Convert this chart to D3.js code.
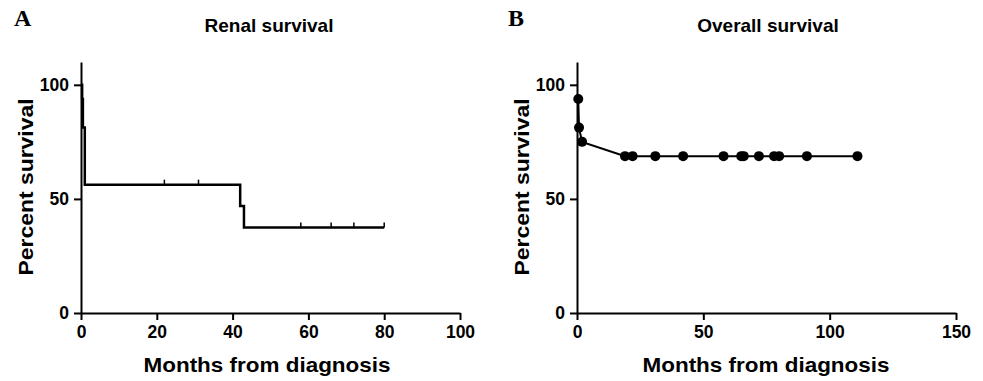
<!DOCTYPE html>
<html>
<head>
<meta charset="utf-8">
<script src="https://cdn.jsdelivr.net/npm/d3@7"></script>
<style>
  body { margin: 0; background: #fff; }
  text { font-family: "Liberation Sans", Arial, sans-serif; font-weight: bold; fill: #000; }
</style>
</head>
<body>
<script>
// Panel A - renal survival (Kaplan-Meier steps)
const renalTimes = [0, 0.3, 0.5, 1, 42, 43, 80]
const renalSurv = [100, 93.75, 81.25, 56.25, 46.875, 37.5, 37.5]
const renalCensored = [22, 31, 58, 66, 72, 80]

// Panel B - overall survival (points joined by lines)
const overallTimes = [0.5, 0.8, 2, 19, 22, 31, 42, 58, 65, 66, 72, 78, 80, 91, 111]
const overallSurv = [93.75, 81.25, 75, 68.75, 68.75, 68.75, 68.75, 68.75, 68.75, 68.75, 68.75, 68.75, 68.75, 68.75, 68.75]

const yTicks = [0, 50, 100]
const xTicksA = [0, 20, 40, 60, 80, 100]
const xTicksB = [0, 50, 100, 150]

const width = 983, height = 381

const svg = d3.select('body').append('svg')
    .attr('width', width)
    .attr('height', height)

const yScale = d3.scaleLinear()
    .domain([0, 110])
    .range([313, 62])

// draws axes + labels for one panel, returns the panel group
function drawPanel(xScale, xTicks, letter, letterX, title, titleX) {
    const g = svg.append('g')
    const x0 = xScale.range()[0]

    const xAxis = g.append('g')
        .attr('transform', 'translate(0,' + yScale(0) + ')')
        .call(d3.axisBottom(xScale).tickValues(xTicks).tickSize(7).tickPadding(4).tickSizeOuter(0))
    const yAxis = g.append('g')
        .attr('transform', 'translate(' + x0 + ',0)')
        .call(d3.axisLeft(yScale).tickValues(yTicks).tickSize(7).tickPadding(5).tickSizeOuter(0))

    ;[xAxis, yAxis].forEach(a => {
        a.select('.domain').attr('stroke', '#000').attr('stroke-width', 2)
        a.selectAll('.tick line').attr('stroke', '#000').attr('stroke-width', 2)
        a.selectAll('.tick text')
            .style('font-family', '"Liberation Sans", Arial, sans-serif')
            .style('font-weight', 'bold')
            .style('font-size', '17.5px')
            .attr('fill', '#000')
    })
    xAxis.selectAll('.tick text').attr('dy', '0.8em')

    // y axis title
    g.append('text')
        .attr('text-anchor', 'middle')
        .attr('transform', 'translate(' + (x0 - 48) + ',' + 187 + ')rotate(-90)')
        .attr('textLength', 177)
        .attr('lengthAdjust', 'spacingAndGlyphs')
        .style('font-size', '21px')
        .text('Percent survival')

    // x axis title
    g.append('text')
        .attr('text-anchor', 'middle')
        .attr('x', titleX)
        .attr('y', 372)
        .attr('textLength', 247)
        .attr('lengthAdjust', 'spacingAndGlyphs')
        .style('font-size', '21px')
        .text('Months from diagnosis')

    // panel title
    g.append('text')
        .attr('text-anchor', 'middle')
        .attr('x', titleX + 2)
        .attr('y', 32)
        .style('font-size', '19px')
        .text(title)

    // panel letter
    g.append('text')
        .attr('x', letterX)
        .attr('y', 26)
        .style('font-family', '"Liberation Serif", "Times New Roman", serif')
        .style('font-size', '24px')
        .text(letter)

    return g
}

// ---- Panel A ----
const xScaleA = d3.scaleLinear().domain([0, 100]).range([81, 460])
const gA = drawPanel(xScaleA, xTicksA, 'A', 14, 'Renal survival', 267)

const renalData = renalTimes.map((t, i) => ({ t: t, s: renalSurv[i] }))

gA.append('path')
    .datum(renalData)
    .attr('d', d3.line()
        .x(d => xScaleA(d.t))
        .y(d => yScale(d.s))
        .curve(d3.curveStepAfter))
    .attr('fill', 'none')
    .attr('stroke', '#000')
    .attr('stroke-width', 2.5)

// survival value at time t (step lookup)
function survAt(t) {
    let s = renalSurv[0]
    renalTimes.forEach((rt, i) => { if (rt <= t) s = renalSurv[i] })
    return s
}

gA.selectAll('.censor')
    .data(renalCensored)
    .enter()
    .append('line')
    .attr('x1', d => xScaleA(d))
    .attr('x2', d => xScaleA(d))
    .attr('y1', d => yScale(survAt(d)))
    .attr('y2', d => yScale(survAt(d)) - 5)
    .attr('stroke', '#000')
    .attr('stroke-width', 1.5)

// ---- Panel B ----
const xScaleB = d3.scaleLinear().domain([0, 150]).range([577, 956])
const gB = drawPanel(xScaleB, xTicksB, 'B', 508, 'Overall survival', 766)

const overallData = overallTimes.map((t, i) => ({ t: t, s: overallSurv[i] }))

gB.append('path')
    .datum(overallData)
    .attr('d', d3.line()
        .x(d => xScaleB(d.t))
        .y(d => yScale(d.s)))
    .attr('fill', 'none')
    .attr('stroke', '#000')
    .attr('stroke-width', 2)

gB.selectAll('.dot')
    .data(overallData)
    .enter()
    .append('circle')
    .attr('cx', d => xScaleB(d.t))
    .attr('cy', d => yScale(d.s))
    .attr('r', 5)
    .attr('fill', '#000')
</script>
</body>
</html>
